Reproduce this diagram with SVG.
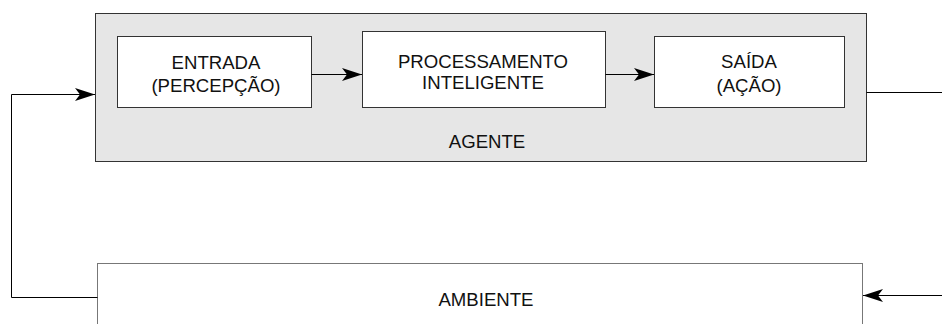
<svg xmlns="http://www.w3.org/2000/svg" width="942" height="324" viewBox="0 0 942 324">
<style>
.box{fill:#ffffff;stroke:#333333;stroke-width:1}
.agent{fill:#e6e6e6;stroke:#333333;stroke-width:1}
.amb{fill:#ffffff;stroke:#777777;stroke-width:1}
.t{font-family:"Liberation Sans",Arial,sans-serif;font-size:18.6px;fill:#111111;text-anchor:middle}
.c{fill:none;stroke:#000000;stroke-width:1}
</style>
<defs>
<marker id="ah" markerWidth="21" markerHeight="14" refX="20" refY="7" orient="auto" markerUnits="userSpaceOnUse">
<path d="M0,0.5 L20,7 L0,13.5 L5,7 Z" fill="#000000"/>
</marker>
</defs>
<g id="agente">
<rect class="agent" x="95.5" y="13.5" width="771" height="148"/>
<text class="t" x="487" y="148">AGENTE</text>
</g>
<g id="entrada">
<rect class="box" x="117.5" y="36.5" width="194" height="71"/>
<text class="t" x="216" y="69">ENTRADA</text>
<text class="t" x="216" y="92">(PERCEPÇÃO)</text>
</g>
<g id="processamento">
<rect class="box" x="362.5" y="31.5" width="243" height="76"/>
<text class="t" x="483" y="68">PROCESSAMENTO</text>
<text class="t" x="483" y="89">INTELIGENTE</text>
</g>
<g id="saida">
<rect class="box" x="654.5" y="36.5" width="190" height="71"/>
<text class="t" x="749" y="68">SAÍDA</text>
<text class="t" x="749" y="92">(AÇÃO)</text>
</g>
<g id="ambiente">
<rect class="amb" x="97.5" y="263.5" width="765" height="80"/>
<text class="t" x="486" y="306">AMBIENTE</text>
</g>
<g id="connectors">
<path class="c" d="M311.5,74.5 L362,74.5" marker-end="url(#ah)"/>
<path class="c" d="M605.5,74.5 L654,74.5" marker-end="url(#ah)"/>
<path class="c" d="M866.5,92.5 L942,92.5"/>
<path class="c" d="M97.5,297.5 L11.5,297.5 L11.5,94.5 L95,94.5" marker-end="url(#ah)"/>
<path class="c" d="M942,295.5 L863,295.5" marker-end="url(#ah)"/>
</g>
</svg>
